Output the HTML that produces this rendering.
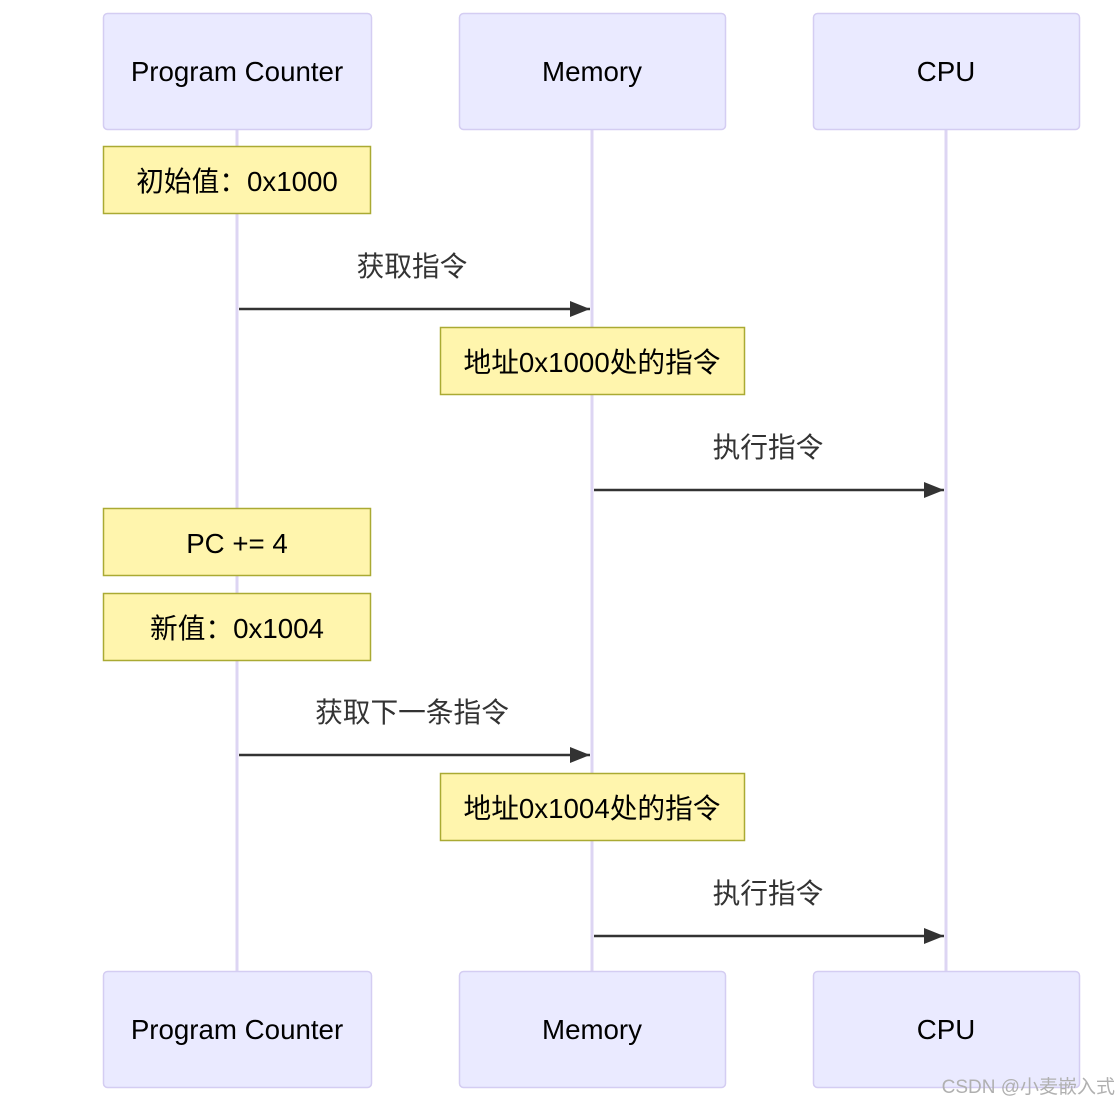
<!DOCTYPE html>
<html><head><meta charset="utf-8"><style>
body{margin:0;background:#fff;}
svg{display:block;}
text{font-family:"Liberation Sans","Noto Sans CJK SC",sans-serif;font-size:27.7px;fill:#333;}
.a{fill:#000;}
</style></head><body>
<svg width="1119" height="1106" viewBox="0 0 1119 1106">
<defs>
<marker id="arr" viewBox="0 0 20 16" markerWidth="20" markerHeight="16" refX="20" refY="8" orient="auto" markerUnits="userSpaceOnUse"><path d="M0,0 L20,8 L0,16 z" fill="#333"/></marker></defs>
<g stroke="#ddd5f3" stroke-width="3">
<line x1="237" y1="129" x2="237" y2="971"/>
<line x1="592" y1="129" x2="592" y2="971"/>
<line x1="946" y1="129" x2="946" y2="971"/>
</g>
<g fill="#eaeaff" stroke="#d4cdf2" stroke-width="1.5">
<rect x="103.5" y="13.5" width="268" height="116" rx="4"/>
<rect x="459.5" y="13.5" width="266" height="116" rx="4"/>
<rect x="813.5" y="13.5" width="266" height="116" rx="4"/>
<rect x="103.5" y="971.5" width="268" height="116" rx="4"/>
<rect x="459.5" y="971.5" width="266" height="116" rx="4"/>
<rect x="813.5" y="971.5" width="266" height="116" rx="4"/>
</g>
<g text-anchor="middle" class="a">
<text x="237" y="81" class="a">Program Counter</text>
<text x="592" y="81" class="a">Memory</text>
<text x="946" y="81" class="a">CPU</text>
<text x="237" y="1039" class="a">Program Counter</text>
<text x="592" y="1039" class="a">Memory</text>
<text x="946" y="1039" class="a">CPU</text>
</g>
<g fill="#fff5ad" stroke="#aaaa33" stroke-width="1.5">
<rect x="103.5" y="146.5" width="267" height="67"/>
<rect x="440.5" y="327.5" width="304" height="67"/>
<rect x="103.5" y="508.5" width="267" height="67"/>
<rect x="103.5" y="593.5" width="267" height="67"/>
<rect x="440.5" y="773.5" width="304" height="67"/>
</g>
<g text-anchor="middle">
<text x="237" y="191" class="a">初始值：0x1000</text>
<text x="592" y="372" class="a">地址0x1000处的指令</text>
<text x="237" y="553" class="a">PC += 4</text>
<text x="237" y="638" class="a">新值：0x1004</text>
<text x="592" y="818" class="a">地址0x1004处的指令</text>
<text x="412" y="276">获取指令</text>
<text x="768" y="457">执行指令</text>
<text x="412" y="722">获取下一条指令</text>
<text x="768" y="903">执行指令</text>
</g>
<g stroke="#333" stroke-width="2.5">
<line x1="239" y1="309" x2="590" y2="309" marker-end="url(#arr)"/>
<line x1="594" y1="490" x2="944" y2="490" marker-end="url(#arr)"/>
<line x1="239" y1="755" x2="590" y2="755" marker-end="url(#arr)"/>
<line x1="594" y1="936" x2="944" y2="936" marker-end="url(#arr)"/>
</g>
<text x="1115" y="1093" text-anchor="end" style="font-size:19px;fill:#b0b0b0">CSDN @小麦嵌入式</text>
</svg>
</body></html>
